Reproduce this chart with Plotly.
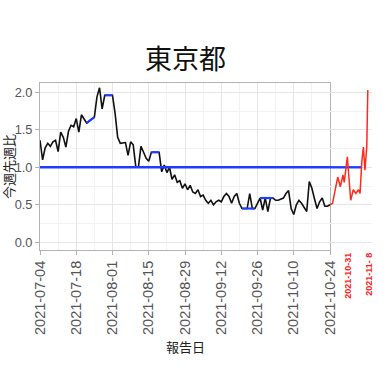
import pandas as pd
import plotly.graph_objects as go

# ---- data ----
start_date = "2021-07-04"
main_days = list(range(113))
main_vals = [1.36, 1.10, 1.26, 1.32, 1.28, 1.34, 1.36, 1.21, 1.47, 1.40,
             1.27, 1.48, 1.56, 1.54, 1.65, 1.47, 1.70, 1.65, 1.59, 1.62,
             1.64, 1.67, 1.94, 2.06, 1.78, 1.96, 1.96, 1.96, 1.96, 1.72,
             1.40, 1.32, 1.32, 1.33, 1.16, 1.34, 1.30, 1.01, 1.00, 1.28,
             1.20, 1.12, 1.08, 1.20, 1.20, 1.20, 1.20, 0.94, 1.03, 0.93,
             1.00, 0.84, 0.90, 0.80, 0.82, 0.72, 0.78, 0.70, 0.76, 0.67,
             0.65, 0.70, 0.61, 0.63, 0.56, 0.52, 0.56, 0.50, 0.54, 0.56,
             0.54, 0.61, 0.65, 0.61, 0.52, 0.61, 0.65, 0.52, 0.45, 0.45,
             0.45, 0.65, 0.45, 0.45, 0.52, 0.59, 0.43, 0.59, 0.41, 0.59,
             0.59, 0.56, 0.56, 0.58, 0.59, 0.65, 0.69, 0.45, 0.37, 0.50,
             0.56, 0.52, 0.46, 0.41, 0.81, 0.72, 0.58, 0.45, 0.54, 0.59,
             0.48, 0.48, 0.50]

blue_days = [18, 21, None, 25, 28, None, 43, 46, None, 78, 83, None, 85, 90]
blue_vals = [1.59, 1.67, None, 1.96, 1.96, None, 1.20, 1.20, None, 0.45, 0.45, None, 0.59, 0.59]

ref_value = 1.0
ref_days = [0, 112, 124]

red_days = [112, 113, 114, 115, 116, 116.5, 117, 117.5, 118, 118.7, 119.3, 120,
            121, 122, 123, 123.6, 124.3, 124.9, 125.5, 126.2, 126.6]
red_vals = [0.50, 0.52, 0.70, 0.87, 0.74, 0.82, 0.90, 0.80, 0.94, 1.14, 0.87, 0.56,
            0.70, 0.65, 0.70, 0.65, 1.08, 1.27, 0.96, 1.27, 2.03]

tick_labels = ["2021-07-04", "2021-07-18", "2021-08-01", "2021-08-15", "2021-08-29",
               "2021-09-12", "2021-09-26", "2021-10-10", "2021-10-24"]
extra_tick_dates = ["2021-10-31", "2021-11-08"]
extra_tick_labels = ["2021-10-31", "2021-11- 8"]
y_ticks = [0.0, 0.5, 1.0, 1.5, 2.0]
y_labels = ["0.0", "0.5", "1.0", "1.5", "2.0"]

title_text = "東京都"
y_title = "今週先週比"
x_title = "報告日"

# ---- helpers ----
base = pd.Timestamp(start_date)
def to_dates(days):
    return [None if d is None else base + pd.Timedelta(days=d) for d in days]

W, H = 391, 380
L, T = 40, 83
R = W - 372
B = H - 250
pw, ph = W - L - R, H - T - B
split = 290 / pw
panel_end = pd.Timestamp("2021-10-24")
outer_end = panel_end + pd.Timedelta(days=16.22)

fig = go.Figure()

# main panel traces
fig.add_trace(go.Scatter(x=to_dates(main_days), y=main_vals, mode="lines",
                         line=dict(color="#111111", width=1.6), xaxis="x", yaxis="y",
                         hoverinfo="skip"))
fig.add_trace(go.Scatter(x=to_dates(ref_days[:2]), y=[ref_value] * 2, mode="lines",
                         line=dict(color="#1f3dff", width=2.4), xaxis="x", yaxis="y",
                         hoverinfo="skip"))
fig.add_trace(go.Scatter(x=to_dates(blue_days), y=blue_vals, mode="lines",
                         line=dict(color="#1f3dff", width=2.2), xaxis="x", yaxis="y",
                         connectgaps=False, hoverinfo="skip"))
# outside-panel traces
fig.add_trace(go.Scatter(x=to_dates(ref_days[1:]), y=[ref_value] * 2, mode="lines",
                         line=dict(color="#1f3dff", width=2.4), xaxis="x2", yaxis="y",
                         hoverinfo="skip"))
fig.add_trace(go.Scatter(x=to_dates(red_days), y=red_vals, mode="lines",
                         line=dict(color="#ff2a1a", width=1.5), xaxis="x2", yaxis="y",
                         hoverinfo="skip"))

x_tick_font = dict(family="Liberation Sans, Arial, sans-serif", size=14.5, color="#555555")
y_tick_font = dict(family="Liberation Sans, Arial, sans-serif", size=12.8, color="#555555")

fig.update_layout(
    template="none",
    width=W, height=H, margin=dict(l=L, r=R, t=T, b=B, autoexpand=False),
    paper_bgcolor="white", plot_bgcolor="rgba(0,0,0,0)",
    showlegend=False,
    title=dict(text=title_text, x=185.5 / W, xref="container", xanchor="center",
               y=1 - 60 / H, yref="container", yanchor="middle", automargin=False,
               font=dict(family="Noto Sans CJK JP", size=27, color="#111111")),
    xaxis=dict(domain=[0, split], range=[base, panel_end], anchor="y", automargin=False,
               tickmode="array", tickvals=tick_labels, ticktext=tick_labels,
               tickangle=-90, tickfont=x_tick_font, ticks="outside", ticklen=4,
               tickcolor="#b3b3b3", showline=True, mirror=True, linecolor="#b3b3b3",
               linewidth=1, showgrid=True, gridcolor="#e6e6e6", gridwidth=1,
               minor=dict(dtick=7 * 86400000, tick0=start_date, showgrid=True,
                          gridcolor="#f2f2f2", gridwidth=0.6),
               zeroline=False, fixedrange=True),
    xaxis2=dict(domain=[split, 1], range=[panel_end, outer_end], anchor="y",
                automargin=False,
                tickmode="array", tickvals=extra_tick_dates, ticktext=extra_tick_labels,
                tickangle=-90, ticks="", showgrid=False, showline=False, zeroline=False,
                tickfont=dict(family="Liberation Sans, Arial, sans-serif", size=9,
                              color="#ff1a1a", weight="bold"),
                fixedrange=True),
    yaxis=dict(domain=[0, 1], range=[-0.103, 2.124], anchor="x", automargin=False,
               tickmode="array", tickvals=y_ticks, ticktext=y_labels,
               tickfont=y_tick_font, ticks="outside", ticklen=4, tickcolor="#b3b3b3",
               showline=True, mirror=True, linecolor="#b3b3b3", linewidth=1,
               showgrid=True, gridcolor="#e6e6e6", gridwidth=1,
               minor=dict(dtick=0.25, tick0=0, showgrid=True, gridcolor="#f2f2f2",
                          gridwidth=0.6),
               zeroline=False, fixedrange=True),
    annotations=[
        dict(text=y_title, xref="paper", yref="paper", x=(8.5 - L) / pw, y=0.5,
             textangle=-90, showarrow=False, xanchor="center", yanchor="middle",
             font=dict(family="Noto Sans CJK JP", size=13, color="#222222")),
        dict(text=x_title, xref="paper", yref="paper", x=(185.5 - L) / pw,
             y=-(346 - 250) / ph, showarrow=False, xanchor="center", yanchor="middle",
             font=dict(family="Noto Sans CJK JP", size=13, color="#222222")),
    ],
)

# remove the default page margin so the figure sits at the window's top-left corner
fig.write_html("out.html", config={"displayModeBar": False},
               post_script="document.body.style.margin='0px';")
